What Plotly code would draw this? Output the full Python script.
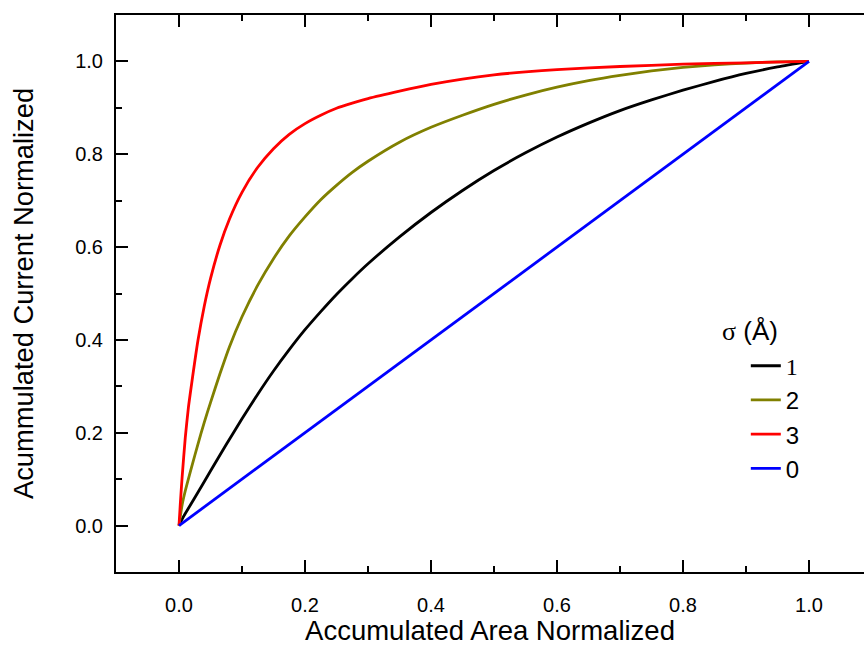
import plotly.graph_objects as go

# Normalized accumulated area (x) vs normalized accumulated current (y), one curve per sigma
x_s1 = [0, 0.005, 0.01, 0.025, 0.05, 0.075, 0.1, 0.125, 0.15, 0.175, 0.2, 0.225, 0.25, 0.275, 0.3, 0.35,
        0.4, 0.45, 0.5, 0.55, 0.6, 0.65, 0.7, 0.75, 0.8, 0.85, 0.9, 0.95, 1.0]
y_s1 = [0, 0.014, 0.026, 0.060, 0.1175, 0.1745, 0.230, 0.283, 0.333, 0.379, 0.422, 0.461, 0.498, 0.532, 0.564, 0.622,
        0.6745, 0.722, 0.765, 0.803, 0.837, 0.867, 0.894, 0.917, 0.938, 0.957, 0.974, 0.988, 1.0]

x_s2 = [0, 0.005, 0.01, 0.02, 0.03, 0.04, 0.05, 0.065, 0.08, 0.1, 0.125, 0.15, 0.175, 0.2, 0.225, 0.25,
        0.275, 0.3, 0.35, 0.4, 0.45, 0.5, 0.55, 0.6, 0.65, 0.7, 0.75, 0.8, 0.85, 0.9, 0.95, 1.0]
y_s2 = [0, 0.045, 0.075, 0.126, 0.175, 0.222, 0.265, 0.327, 0.385, 0.450, 0.518, 0.575, 0.624, 0.665, 0.702, 0.733,
        0.761, 0.785, 0.826, 0.858, 0.884, 0.9075, 0.9275, 0.9445, 0.9585, 0.970, 0.9795, 0.987, 0.9925, 0.9965, 0.999, 1.0]

x_s3 = [0, 0.002, 0.005, 0.01, 0.015, 0.02, 0.03, 0.04, 0.05, 0.065, 0.08, 0.1, 0.125, 0.15, 0.175,
        0.2, 0.225, 0.25, 0.275, 0.3, 0.35, 0.4, 0.45, 0.5, 0.55, 0.6, 0.7, 0.8, 0.9, 1.0]
y_s3 = [0, 0.045, 0.105, 0.190, 0.255, 0.305, 0.398, 0.472, 0.532, 0.604, 0.660, 0.718, 0.772, 0.812, 0.843,
        0.866, 0.884, 0.899, 0.910, 0.920, 0.936, 0.9505, 0.962, 0.971, 0.9775, 0.9825, 0.989, 0.994, 0.997, 1.0]

x_s0 = [0.0, 1.0]
y_s0 = [0.0, 1.0]

series = [
    ("<span style=\"font-family:'Liberation Serif', 'Times New Roman', serif\">1</span>", x_s1, y_s1, "#000000"),
    ("2", x_s2, y_s2, "#808000"),
    ("3", x_s3, y_s3, "#ff0000"),
    ("0", x_s0, y_s0, "#0000ff"),
]

FONT = "Arial, 'Liberation Sans', sans-serif"

fig = go.Figure()
for name, xs, ys, color in series:
    fig.add_trace(go.Scatter(
        x=xs, y=ys, mode="lines", name=name,
        line=dict(color=color, width=2.8, shape="spline", smoothing=0.6),
    ))

axis_common = dict(
    showgrid=False, zeroline=False, automargin=False,
    showline=True, linecolor="black", linewidth=2,
    ticks="inside", ticklen=12, tickwidth=2, tickcolor="black",
    tickformat=".1f", dtick=0.2, tick0=0,
    tickfont=dict(family=FONT, size=20, color="black"),
    minor=dict(ticks="inside", ticklen=6, tickwidth=2, tickcolor="black", dtick=0.1),
)

fig.update_layout(
    width=864, height=646,
    margin=dict(l=116, r=0, t=15, b=74),
    paper_bgcolor="white", plot_bgcolor="white",
    font=dict(family=FONT, color="black"),
    xaxis=dict(
        axis_common, range=[-0.1, -0.1 + 748 / 630], mirror="ticks",
        ticklabelstandoff=14,
        title=dict(text="Accumulated Area Normalized", font=dict(family=FONT, size=27.5), standoff=18),
    ),
    yaxis=dict(
        axis_common, range=[-0.1, 1.1],
        ticklabelstandoff=7,
        title=dict(text="Acummulated Current Normalized", font=dict(family=FONT, size=27.3), standoff=34),
    ),
    legend=dict(
        x=0.842, y=0.410, xanchor="left", yanchor="top",
        bgcolor="rgba(0,0,0,0)", borderwidth=0,
        font=dict(family=FONT, size=24, color="black"),
    ),
    annotations=[dict(
        text="<span style=\"font-family:'Liberation Serif', serif\">σ</span> (Å)",
        xref="paper", yref="paper", x=0.808, y=0.432, xanchor="left", yanchor="middle",
        showarrow=False, font=dict(family=FONT, size=26, color="black"),
    )],
    showlegend=True,
)

fig.write_html("out.html")
